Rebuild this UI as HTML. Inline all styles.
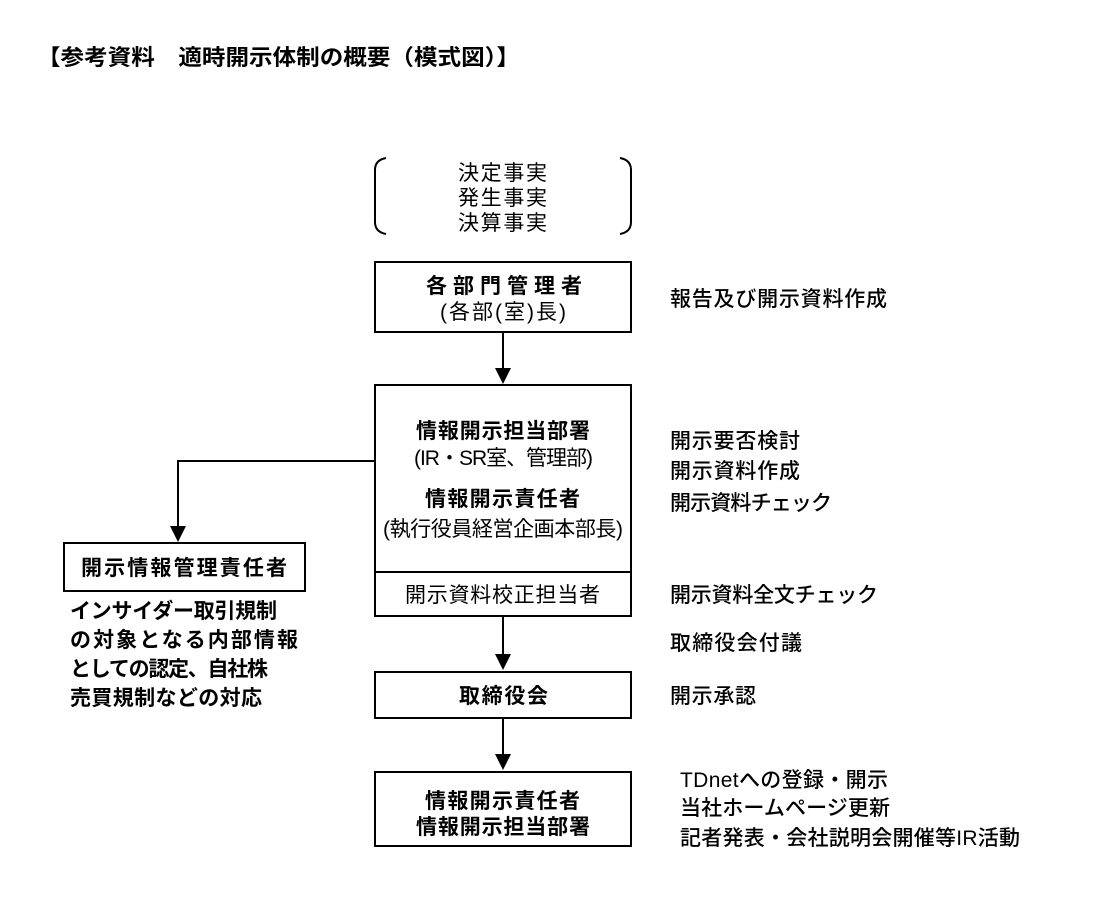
<!DOCTYPE html>
<html><head><meta charset="utf-8"><style>
html,body{margin:0;padding:0;background:#fff;}
svg{display:block;}
text{font-family:"Liberation Sans","Noto Sans CJK JP",sans-serif;fill:#000;}
.b{font-weight:bold;}
.m{font-weight:500;}
</style></head><body>
<svg width="1100" height="921" viewBox="0 0 1100 921" xmlns="http://www.w3.org/2000/svg">
<text x="37" y="65" class="b" font-size="22" textLength="483" lengthAdjust="spacingAndGlyphs">【参考資料　適時開示体制の概要（模式図）】</text>
<path d="M386,158 Q375,160 375,170 L375,222 Q375,232 386,234" fill="none" stroke="#000" stroke-width="2"/>
<path d="M620,158 Q631,160 631,170 L631,222 Q631,232 620,234" fill="none" stroke="#000" stroke-width="2"/>
<g font-size="21">
<text x="458" y="180" textLength="89" lengthAdjust="spacing">決定事実</text>
<text x="458" y="205" textLength="89" lengthAdjust="spacing">発生事実</text>
<text x="458" y="230" textLength="89" lengthAdjust="spacing">決算事実</text>
</g>
<g fill="none" stroke="#000" stroke-width="2">
<rect x="375" y="262" width="256" height="70"/>
<rect x="375" y="385" width="256" height="231"/>
<line x1="375" y1="572" x2="631" y2="572"/>
<rect x="64" y="543" width="241" height="48"/>
<rect x="375" y="672" width="256" height="46"/>
<rect x="375" y="772" width="256" height="74"/>
<line x1="503" y1="332" x2="503" y2="370"/>
<line x1="503" y1="616" x2="503" y2="656"/>
<line x1="503" y1="718" x2="503" y2="756"/>
<polyline points="375,461 178,461 178,528"/>
</g>
<g fill="#000">
<path d="M495,368 L511,368 L503,384 Z"/>
<path d="M495,654 L511,654 L503,670 Z"/>
<path d="M495,754 L511,754 L503,770 Z"/>
<path d="M170,526 L186,526 L178,542 Z"/>
</g>
<g font-size="21">
<text x="426" y="293" class="b" textLength="156" lengthAdjust="spacing">各部門管理者</text>
<text x="440" y="319" textLength="126" lengthAdjust="spacing">(各部(室)長)</text>
<text x="416" y="438" class="b" textLength="174" lengthAdjust="spacing">情報開示担当部署</text>
<text x="414" y="465" textLength="179" lengthAdjust="spacing">(IR・SR室、管理部)</text>
<text x="425" y="506" class="b" textLength="155" lengthAdjust="spacing">情報開示責任者</text>
<text x="383" y="536" textLength="240" lengthAdjust="spacing">(執行役員経営企画本部長)</text>
<text x="405" y="602" textLength="195" lengthAdjust="spacing">開示資料校正担当者</text>
<text x="81" y="575" class="b" textLength="206" lengthAdjust="spacing">開示情報管理責任者</text>
<text x="459" y="703" class="b" textLength="89" lengthAdjust="spacing">取締役会</text>
<text x="425" y="808" class="b" textLength="155" lengthAdjust="spacing">情報開示責任者</text>
<text x="416" y="834" class="b" textLength="174" lengthAdjust="spacing">情報開示担当部署</text>
</g>
<g font-size="21" class="b">
<text x="70" y="618" textLength="207" lengthAdjust="spacing">インサイダー取引規制</text>
<text x="70" y="647" textLength="228" lengthAdjust="spacing">の対象となる内部情報</text>
<text x="70" y="676" textLength="198" lengthAdjust="spacing">としての認定、自社株</text>
<text x="70" y="705" textLength="192" lengthAdjust="spacing">売買規制などの対応</text>
</g>
<g font-size="21" class="m">
<text x="670" y="306" textLength="217" lengthAdjust="spacing">報告及び開示資料作成</text>
<text x="670" y="448" textLength="130" lengthAdjust="spacing">開示要否検討</text>
<text x="670" y="478" textLength="130" lengthAdjust="spacing">開示資料作成</text>
<text x="670" y="510" textLength="162" lengthAdjust="spacing">開示資料チェック</text>
<text x="670" y="602" textLength="208" lengthAdjust="spacing">開示資料全文チェック</text>
<text x="670" y="650" textLength="132" lengthAdjust="spacing">取締役会付議</text>
<text x="670" y="703" textLength="86" lengthAdjust="spacing">開示承認</text>
<text x="680" y="787" textLength="208" lengthAdjust="spacing">TDnetへの登録・開示</text>
<text x="680" y="815" textLength="210" lengthAdjust="spacing">当社ホームページ更新</text>
<text x="680" y="845" textLength="340" lengthAdjust="spacing">記者発表・会社説明会開催等IR活動</text>
</g>
</svg>
</body></html>
